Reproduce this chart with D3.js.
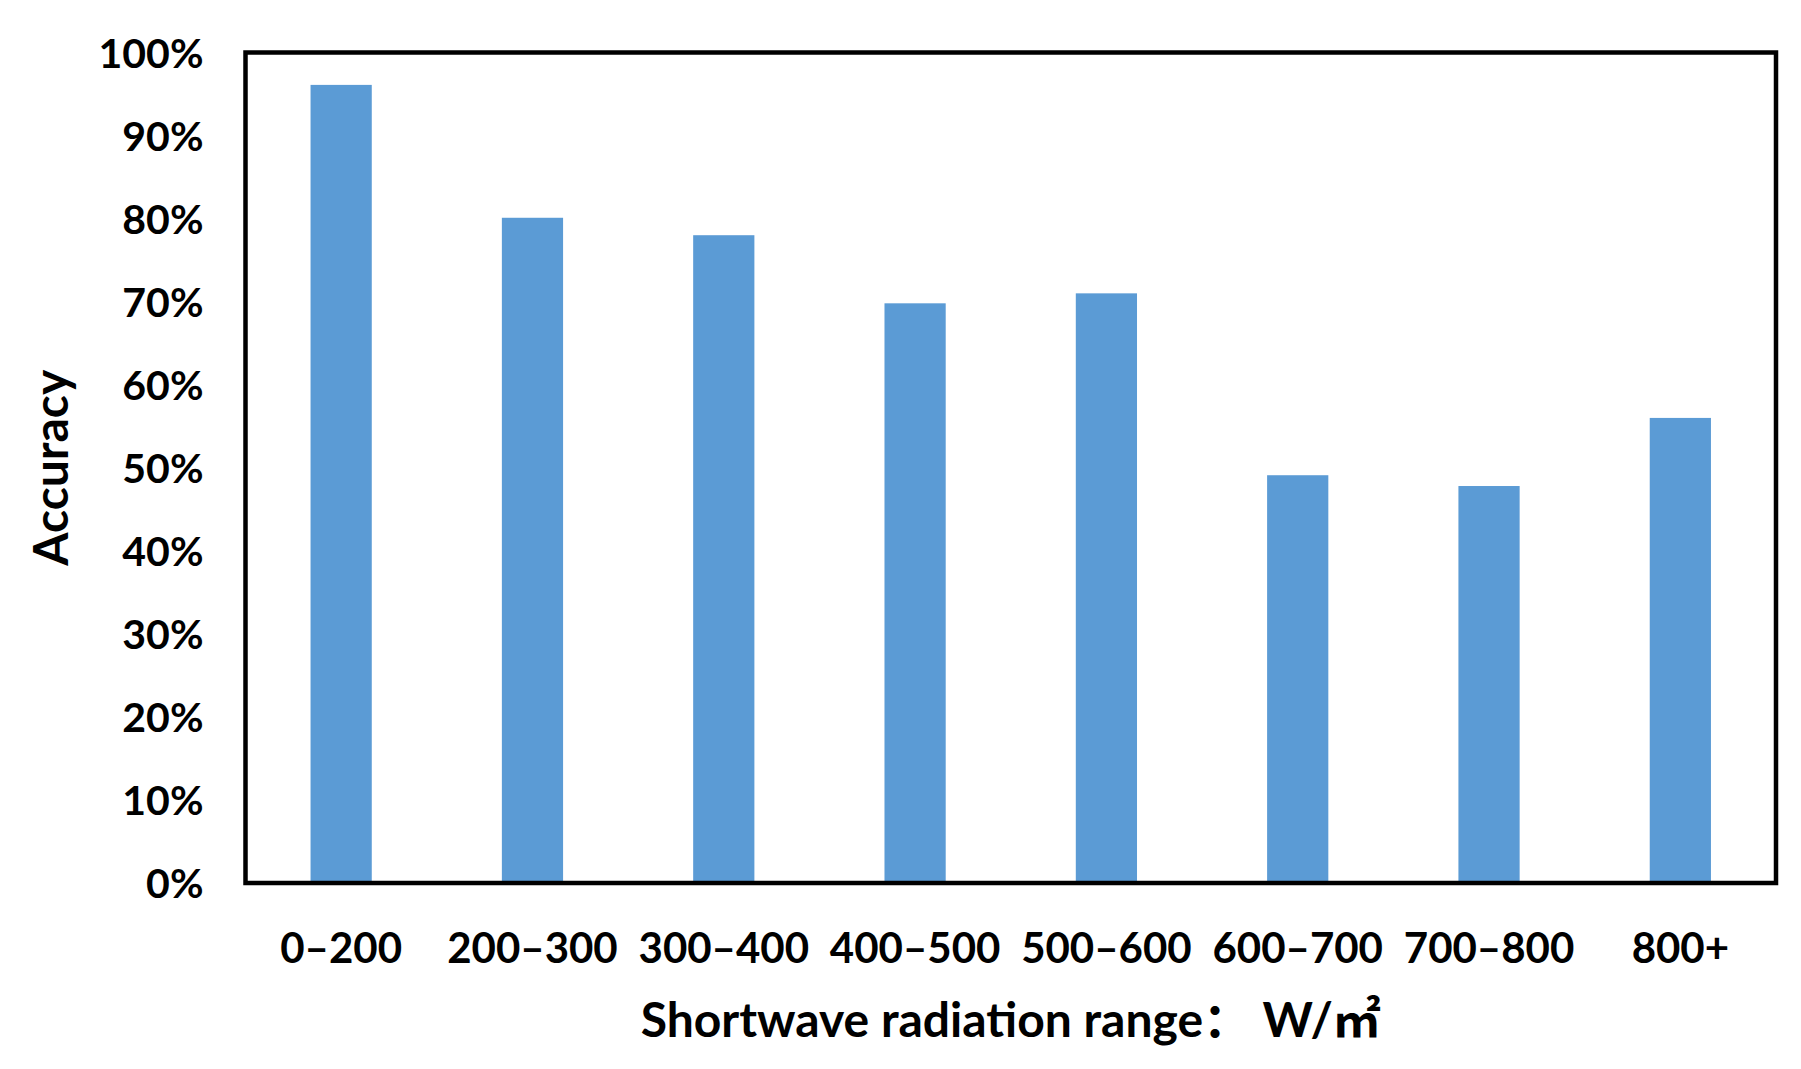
<!DOCTYPE html>
<html>
<head>
<meta charset="utf-8">
<script src="https://cdn.jsdelivr.net/npm/d3@7"></script>
<style>
  html, body { margin: 0; padding: 0; background: #fff; }
  svg { display: block; }
  text { font-family: Lato, "Noto Sans CJK SC", sans-serif; font-weight: bold; fill: #000; }
</style>
</head>
<body>
<svg id="chart" width="1801" height="1069"></svg>
<script>
const categories = ["0\u2013200", "200\u2013300", "300\u2013400", "400\u2013500", "500\u2013600", "600\u2013700", "700\u2013800", "800+"];
const accuracy = [0.961, 0.801, 0.780, 0.698, 0.710, 0.491, 0.478, 0.560];
const yTicks = [0, 0.1, 0.2, 0.3, 0.4, 0.5, 0.6, 0.7, 0.8, 0.9, 1.0];
const xTitle = "Shortwave radiation range\uFF1A W/\u33A1";
const yTitle = "Accuracy";

const svg = d3.select("#chart");
const plotLeft = 245.5, plotRight = 1776, plotTop = 52.5, plotBottom = 883;

const x = d3.scaleBand().domain(categories).range([plotLeft, plotRight]).paddingInner(0.68).paddingOuter(0.34);
const y = d3.scaleLinear().domain([0, 1]).range([plotBottom, plotTop]);

// bars
svg.append("g").selectAll("rect").data(accuracy).join("rect")
  .attr("x", (d, i) => x(categories[i]))
  .attr("y", d => y(d))
  .attr("width", x.bandwidth())
  .attr("height", d => y(0) - y(d))
  .attr("fill", "#5B9BD5");

// frame
svg.append("rect")
  .attr("x", plotLeft).attr("y", plotTop)
  .attr("width", plotRight - plotLeft).attr("height", plotBottom - plotTop)
  .attr("fill", "none").attr("stroke", "#000").attr("stroke-width", 4.5);

// y axis
const yAxis = svg.append("g")
  .attr("transform", `translate(${plotLeft},0)`)
  .call(d3.axisLeft(y).tickValues(yTicks).tickFormat(d3.format(".0%")).tickSize(0).tickPadding(42));
yAxis.select(".domain").remove();
yAxis.selectAll("text").style("font-size", "41px").style("font-family", "Lato").style("font-weight", "bold").attr("dy", "0.36em");

// x axis
const xAxis = svg.append("g")
  .attr("transform", `translate(0,${plotBottom})`)
  .call(d3.axisBottom(x).tickSize(0).tickPadding(0));
xAxis.select(".domain").remove();
xAxis.selectAll("text").style("font-size", "42px").style("font-family", "Lato").style("font-weight", "bold").attr("dy", null).attr("y", 80);

// axis titles
svg.append("text")
  .attr("x", (plotLeft + plotRight) / 2).attr("y", 1037)
  .attr("text-anchor", "middle")
  .style("font-size", "48px")
  .text(xTitle);

svg.append("text")
  .attr("transform", `translate(68,${(plotTop + plotBottom) / 2}) rotate(-90)`)
  .attr("text-anchor", "middle")
  .style("font-size", "48px")
  .text(yTitle);
</script>
</body>
</html>
